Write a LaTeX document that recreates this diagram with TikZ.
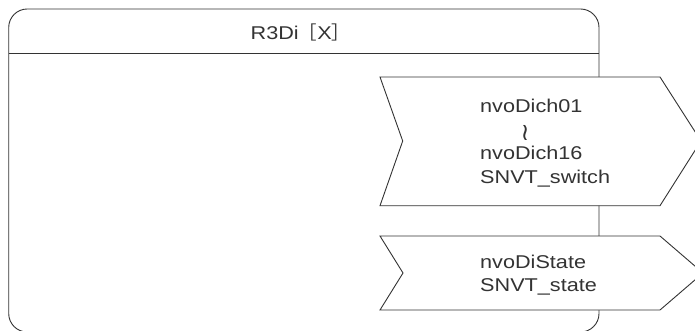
\documentclass[tikz,border=0pt]{standalone}
\usepackage{fontspec}
\setmainfont[FakeStretch=1.17]{Liberation Sans}
\newfontfamily\cjk{Noto Sans CJK JP}
\newfontfamily\symfont{DejaVu Sans}
\definecolor{ink}{HTML}{333333}
\tikzset{
  frame/.style={draw=ink, line width=0.9pt},
  nvbox/.style={draw=ink, line width=0.9pt, fill=white, line join=miter},
  lbl/.style={inner sep=0pt, text=ink, font=\fontsize{18.5}{23}\selectfont, anchor=base west},
}
\begin{document}
\begin{tikzpicture}[x=1pt, y=-1pt]
\useasboundingbox (0,0) rectangle (695,331);
\clip (0,0) rectangle (695,331);

% device frame with title bar
\draw[frame, rounded corners=18.5pt] (8.7,9) rectangle (599,332);
\draw[frame] (8.7,53.3) -- (599,53.3);
\node[lbl] (title) at (250.5,40) {R3Di{\cjk ［}X{\cjk ］}};

% output network variables
\draw[nvbox] (380,77) -- (660,77) -- (701,141) -- (660,205.7)
  -- (380,205.7) -- (402.7,141) -- cycle;
\node[lbl] (d01) at (480,113) {nvoDich01};
\node[inner sep=0pt, text=ink, font=\symfont\fontsize{24}{24}\selectfont] (wave) at (525,133) {≀};
\node[lbl] (d16) at (480,160) {nvoDich16};
\node[lbl] (dtype) at (480,183) {SNVT\_switch};

\draw[nvbox] (380,236) -- (660,236) -- (703,273) -- (660,310)
  -- (380,310) -- (403,273) -- cycle;
\node[lbl] (st) at (480,268) {nvoDiState};
\node[lbl] (sttype) at (480,291) {SNVT\_state};
\end{tikzpicture}
\end{document}
